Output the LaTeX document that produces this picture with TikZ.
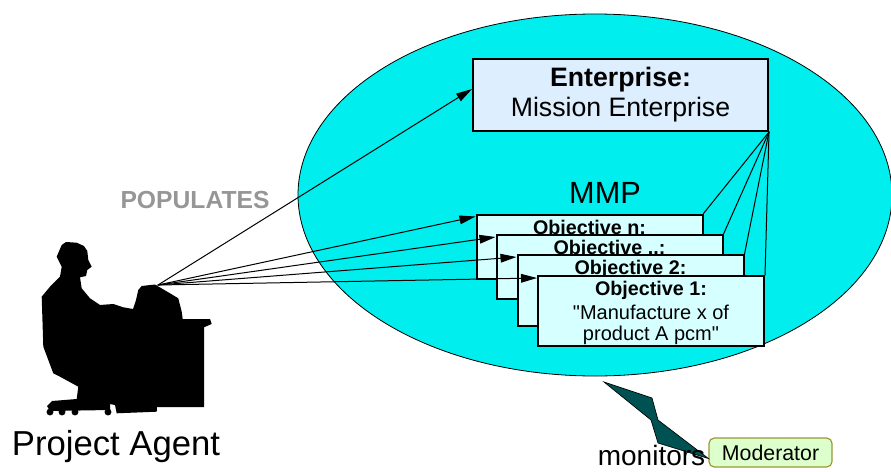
\documentclass[tikz,border=0pt]{standalone}
\usepackage{fontspec}
\setmainfont{Liberation Sans}[Ligatures=TeXOff]
\usetikzlibrary{arrows.meta}
\definecolor{elipcyan}{RGB}{0,238,238}
\definecolor{entblue}{RGB}{221,238,255}
\definecolor{objcyan}{RGB}{214,255,255}
\definecolor{boltteal}{RGB}{0,82,82}
\definecolor{modgreen}{RGB}{221,255,204}
\definecolor{modolive}{RGB}{153,153,51}
\definecolor{popgray}{RGB}{150,150,150}
\begin{document}
\begin{tikzpicture}[line cap=round,line join=round,x=0.75pt,y=-0.75pt,
	box/.style={draw,line width=1.5pt,line join=miter,inner sep=0pt},
	objbox/.style={box,fill=objcyan,minimum width=169.5pt},
	objtitle/.style={anchor=north,inner sep=0pt,font=\fontsize{14.8}{17}\selectfont\bfseries},
	objtext/.style={anchor=north,inner sep=0pt,align=center,font=\fontsize{15}{15.75}\selectfont},
	link/.style={line width=0.75pt},
	arr/.style={link,-{Triangle[length=12pt,width=6.5pt]}}]
		\useasboundingbox (0,0) rectangle (891,471);
		%Vẽ elip
		\draw[fill=elipcyan,line width=0.6pt] (595,195) ellipse [x radius=222.75pt,y radius=135.75pt];
		%Vẽ các hộp
		\node[box,fill=entblue,minimum width=221.25pt,minimum height=54pt,align=center,font=\fontsize{20}{22.5}\selectfont] (ent) at (620.5,95) {\textbf{Enterprise:}\\Mission Enterprise};
		\node[anchor=base,inner sep=0pt,font=\fontsize{23}{26}\selectfont] (mmp) at (605,203) {MMP};
		\node[objbox,minimum height=48pt] (objn) at (589.5,246.5) {};
		\node[objtitle] (objn-t) at ([yshift=-4.5pt]objn.north) {Objective n:};
		\node[objbox,minimum height=48pt] (objdots) at (609.5,267) {};
		\node[objtitle] (objdots-t) at ([yshift=-4.5pt]objdots.north) {Objective ..:};
		\node[objbox,minimum height=53.25pt] (obj2) at (630.5,290.5) {};
		\node[objtitle] (obj2-t) at ([yshift=-4.5pt]obj2.north) {Objective 2:};
		\node[objbox,minimum height=52.5pt] (obj1) at (651,311) {};
		\node[objtitle] (obj1-t) at ([yshift=-4.5pt]obj1.north) {Objective 1:};
		\node[objtext] (obj1-b) at ([yshift=-3.75pt]obj1-t.south) {"Manufacture x of\\product A pcm"};
		%Vẽ râu ria
		\foreach \o in {n,dots,2,1}
		\draw[link] (ent.south east)--(obj\o.north east);
		%Vẽ người
		\fill (61.7,245)--(66,242)--(76.7,242.7)--(84,246)--(87.3,251)--(88.3,260)--(91.7,266.7)--(87.3,270)--(86,276)--(80,277.3)--(81.7,288.3)--(90,298.3)--(100,305)--(113.3,304)--(123.3,307.3)--(133,309)--(136,300)--(138.3,290)--(141.7,286)--(155,284.5)--(170,293.3)--(178.3,298.3)--(181.7,311.7)--(182.7,319)--(210,319)--(211.7,324)--(204,327.3)--(204,407)--(157,407)--(156.7,411.7)--(116.7,413.3)--(115,405)--(110,404)--(110,410)--(50,411)--(47,406)--(52,401)--(76.7,399)--(78.3,386.7)--(60,376.7)--(53.3,373.3)--(43.3,346.7)--(41.7,296.7)--(50,286.7)--(60,276.7)--(61.7,266.7)--(56.7,256.7)--cycle;
		\foreach \x in {50,62,75,108}
		\fill (\x,412) circle (2.6pt);
		\coordinate (src) at (158,285);
		\node[anchor=base,inner sep=0pt,font=\fontsize{26}{30}\selectfont] (agent) at (116,455) {Project Agent};
		\node[anchor=base,inner sep=0pt,text=popgray,font=\fontsize{18.5}{21}\selectfont\bfseries] (pop) at (195,208) {POPULATES};
		%Vẽ mũi tên
		\draw[arr] (src)--([yshift=4.5pt]ent.west);
		\foreach \o in {n,dots,2,1}
		\draw[arr] (src)--([yshift=-2.25pt]obj\o.north west);
		%Vẽ tia chớp
		\node[draw=modolive,fill=modgreen,rounded corners=4pt,line width=0.9pt,minimum width=92.25pt,minimum height=21.75pt,font=\fontsize{16}{18}\selectfont] (mod) at (770.5,452.5) {Moderator};
		\draw[fill=boltteal,line width=0.5pt,line join=miter] ([yshift=-4.5pt]mod.west)--(658,443)--(651,420)--(604,382)--(652,398)--(658,420)--cycle;
		\node[anchor=base,inner sep=0pt,font=\fontsize{21}{24}\selectfont] (mon) at (651.5,465) {monitors};
	\end{tikzpicture}
\end{document}
